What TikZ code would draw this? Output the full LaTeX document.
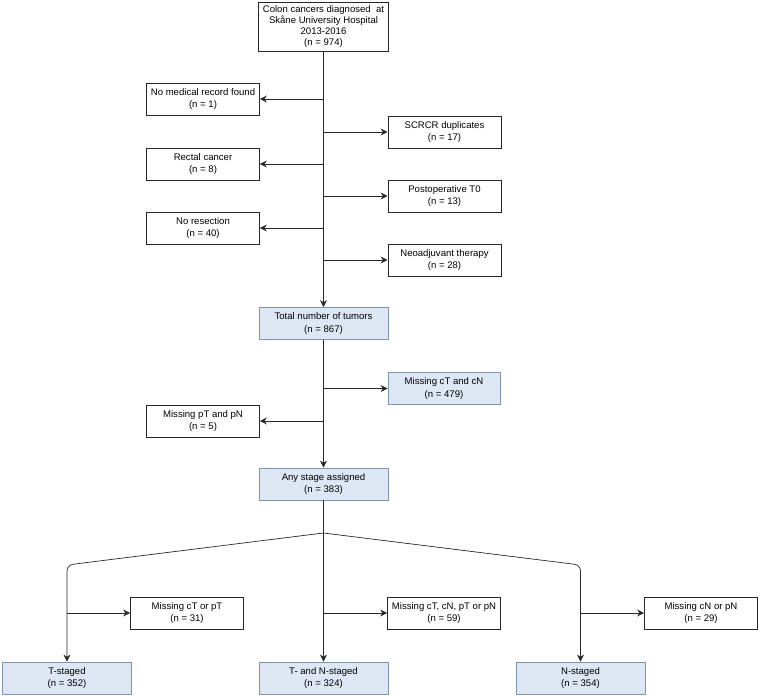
\documentclass[tikz,border=0pt]{standalone}
\usepackage{fontspec}
\setmainfont{Liberation Sans}
\usetikzlibrary{arrows.meta}
\definecolor{stagefill}{RGB}{220,231,243}
\definecolor{stagedraw}{RGB}{128,148,172}
\definecolor{linegray}{RGB}{40,40,40}

\begin{document}
\begin{tikzpicture}[x=1bp, y=-1bp, font=\fontsize{9.6}{12.5}\selectfont]
\tikzstyle{excl}   = [rectangle, minimum width=113bp, minimum height=32bp, align=center, draw=linegray, fill=white, line width=0.7pt, inner sep=1pt]
\tikzstyle{stage}  = [rectangle, minimum width=129bp, minimum height=32bp, align=center, draw=stagedraw, fill=stagefill, line width=0.8pt, inner sep=1pt]
\tikzstyle{arrow}  = [draw=linegray, line width=0.7pt, -{Stealth[length=7bp, width=7bp]}]

\useasboundingbox (0,0) rectangle (760,697);

% cohort
\node (colon)  [rectangle, minimum width=130bp, minimum height=49bp, align=center, draw=linegray, line width=0.7pt, inner sep=1pt,
  font=\fontsize{9.6}{11}\selectfont] at (323.5,26.5)
  {Colon cancers diagnosed\ \ at\\Sk\aa ne University Hospital\\2013-2016\\(n = 974)};

% exclusions
\node (nomed)  [excl] at (203,99)  {No medical record found\\(n = 1)};
\node (scrcr)  [excl] at (444.5,132) {SCRCR duplicates\\(n = 17)};
\node (rectal) [excl] at (203,164) {Rectal cancer\\(n = 8)};
\node (postop) [excl] at (444.5,196) {Postoperative T0\\(n = 13)};
\node (nores)  [excl] at (203,228) {No resection\\(n = 40)};
\node (neoadj) [excl] at (444.5,260) {Neoadjuvant therapy\\(n = 28)};

\node (total)  [stage] at (323.5,323.5) {Total number of tumors\\(n = 867)};
\node (misscn) [stage, minimum width=112bp] at (444,388.5) {Missing cT and cN\\(n = 479)};
\node (misspn) [excl]  at (203,421) {Missing pT and pN\\(n = 5)};
\node (any)    [stage] at (323.5,484) {Any stage assigned\\(n = 383)};

% stage groups
\node (tstage) [stage] at (67,678)    {T-staged\\(n = 352)};
\node (tnstage)[stage] at (323.5,678) {T- and N-staged\\(n = 324)};
\node (nstage) [stage] at (580.5,678) {N-staged\\(n = 354)};
\node (misst)  [excl]  at (187,613)   {Missing cT or pT\\(n = 31)};
\node (misstn) [excl]  at (444,613)   {Missing cT, cN, pT or pN\\(n = 59)};
\node (missn)  [excl]  at (701,613)   {Missing cN or pN\\(n = 29)};

\coordinate (split) at (323.5,533);

\draw [arrow] (colon) -- (total);
\draw [arrow] (colon.south |- nomed)  -- (nomed);
\draw [arrow] (colon.south |- scrcr)  -- (scrcr);
\draw [arrow] (colon.south |- rectal) -- (rectal);
\draw [arrow] (colon.south |- postop) -- (postop);
\draw [arrow] (colon.south |- nores)  -- (nores);
\draw [arrow] (colon.south |- neoadj) -- (neoadj);

\draw [arrow] (total) -- (any);
\draw [arrow] (total.south |- misscn) -- (misscn);
\draw [arrow] (total.south |- misspn) -- (misspn);

\draw [arrow] (any) -- (tnstage);
\draw [arrow, rounded corners=6bp] (split) -- (tstage.north |- 0,565) -- (tstage);
\draw [arrow, rounded corners=6bp] (split) -- (nstage.north |- 0,565) -- (nstage);
\draw [arrow] (tstage.north |- misst)   -- (misst);
\draw [arrow] (tnstage.north |- misstn) -- (misstn);
\draw [arrow] (nstage.north |- missn)   -- (missn);
\end{tikzpicture}
\end{document}
